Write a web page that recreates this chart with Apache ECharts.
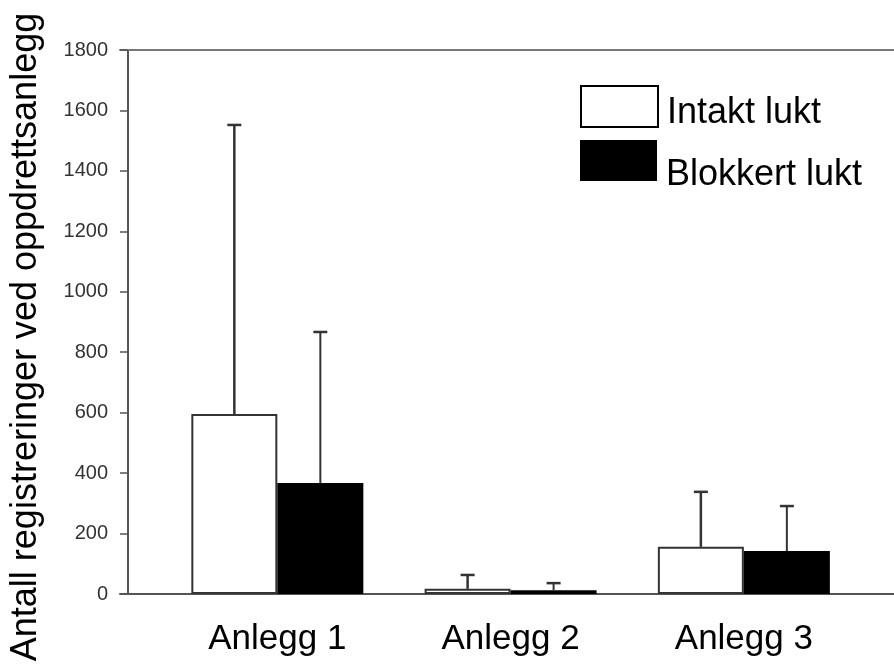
<!DOCTYPE html>
<html>
<head>
<meta charset="utf-8">
<script src="https://cdn.jsdelivr.net/npm/echarts@6/dist/echarts.min.js"></script>
<style>html,body{margin:0;padding:0;background:#fff}#c{width:894px;height:668px}</style>
</head>
<body>
<div id="c"></div>
<script>
var categories = ['Anlegg 1', 'Anlegg 2', 'Anlegg 3'];
var intakt = [596, 17, 156];
var intaktUpper = [1552, 63, 338];
var blokkert = [367, 12, 142];
var blokkertUpper = [867, 36, 291];
var yTicks = [0, 1800, 200]; // min, max, interval
var seriesNames = ['Intakt lukt', 'Blokkert lukt'];

var FONT = 'Liberation Sans, Arial, sans-serif';
var BAR_W = 86;

function errorBar(values, uppers, side, lw) {
  return function (params, api) {
    var i = params.dataIndex;
    var base = api.coord([i, values[i]]);
    var top = api.coord([i, uppers[i]]);
    var x = base[0] + side * BAR_W / 2;
    return {
      type: 'group',
      children: [
        { type: 'line', shape: { x1: x, y1: base[1], x2: x, y2: top[1] },
          style: { stroke: '#333', lineWidth: lw } },
        { type: 'line', shape: { x1: x - 7, y1: top[1], x2: x + 7, y2: top[1] },
          style: { stroke: '#333', lineWidth: 2.5 } }
      ]
    };
  };
}

function legendText(shift) {
  return {
    fontFamily: FONT, fontSize: 36, color: '#000', padding: [0, 0, 0, 4],
    rich: {
      s: { fontSize: 4, lineHeight: shift },
      t: { fontFamily: FONT, fontSize: 36, color: '#000', lineHeight: 41 }
    }
  };
}

var chart = echarts.init(document.getElementById('c'));
chart.setOption({
  animation: false,
  backgroundColor: '#fff',
  grid: [
    { left: 160.7, right: 33.5, top: 50, bottom: 74 },
    { left: 120, right: 0, top: 50, bottom: 74 }
  ],
  legend: [
    { data: [seriesNames[0]], left: 575, top: 79, orient: 'vertical',
      itemWidth: 77, itemHeight: 41, icon: 'rect',
      formatter: '{s| }\n{t|{name}}',
      itemStyle: { color: '#fff', borderColor: '#000', borderWidth: 2 },
      textStyle: legendText(14) },
    { data: [seriesNames[1]], left: 575, top: 133, orient: 'vertical',
      itemWidth: 77, itemHeight: 41, icon: 'rect',
      formatter: '{s| }\n{t|{name}}',
      itemStyle: { color: '#000', borderWidth: 0 },
      textStyle: legendText(30) }
  ],
  xAxis: [
    { type: 'category', gridIndex: 0, data: categories,
      axisLine: { show: false }, axisTick: { show: false },
      axisLabel: { fontFamily: FONT, fontSize: 35, color: '#000', margin: 28 } },
    { type: 'value', gridIndex: 1, position: 'bottom', min: 0, max: 1,
      axisLine: { show: true, onZero: false, lineStyle: { color: '#555', width: 2 } },
      axisTick: { show: false }, axisLabel: { show: false }, splitLine: { show: false } },
    { type: 'value', gridIndex: 1, position: 'top', min: 0, max: 1,
      axisLine: { show: true, onZero: false, lineStyle: { color: '#777', width: 2 } },
      axisTick: { show: false }, axisLabel: { show: false }, splitLine: { show: false } }
  ],
  yAxis: [
    { type: 'value', gridIndex: 0, min: yTicks[0], max: yTicks[1], interval: yTicks[2],
      offset: 32.7,
      name: 'Antall registreringer ved oppdrettsanlegg', nameLocation: 'middle', nameGap: 84,
      nameTextStyle: { fontFamily: FONT, fontSize: 36, color: '#000', padding: [0, 30, 0, 0] },
      axisLine: { show: true, lineStyle: { color: '#555', width: 2 } },
      axisTick: { show: true, inside: false, length: 8, lineStyle: { color: '#555', width: 1.5 } },
      axisLabel: { fontFamily: FONT, fontSize: 20, color: '#333', margin: 20,
        formatter: function (v) { return String(v); } },
      splitLine: { show: false } },
    { type: 'value', gridIndex: 1, show: false, min: 0, max: 1 }
  ],
  series: [
    { name: seriesNames[0], type: 'bar', xAxisIndex: 0, yAxisIndex: 0, data: intakt,
      barWidth: BAR_W, barGap: '0%',
      itemStyle: { color: '#fff', borderColor: '#333', borderWidth: 2 } },
    { name: seriesNames[1], type: 'bar', xAxisIndex: 0, yAxisIndex: 0, data: blokkert,
      barWidth: BAR_W, barGap: '0%',
      itemStyle: { color: '#000', borderColor: '#000', borderWidth: 0 } },
    { type: 'custom', xAxisIndex: 0, yAxisIndex: 0, z: 3,
      renderItem: errorBar(intakt, intaktUpper, -1, 2.5),
      data: intakt.map(function (v, i) { return [i, intaktUpper[i]]; }) },
    { type: 'custom', xAxisIndex: 0, yAxisIndex: 0, z: 3,
      renderItem: errorBar(blokkert, blokkertUpper, 1, 2),
      data: blokkert.map(function (v, i) { return [i, blokkertUpper[i]]; }) }
  ]
});
</script>
</body>
</html>
